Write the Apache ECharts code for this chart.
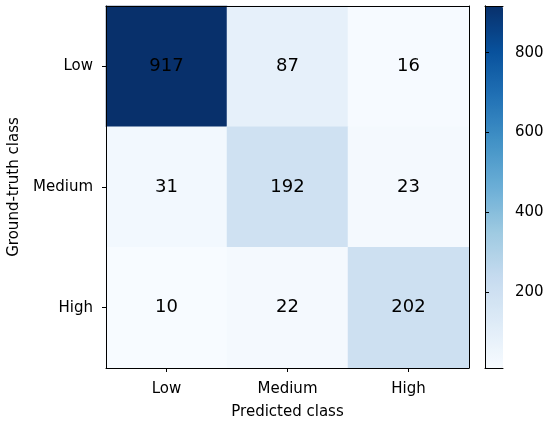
<!DOCTYPE html>
<html>
<head>
<meta charset="utf-8">
<script src="https://cdn.jsdelivr.net/npm/echarts@6/dist/echarts.min.js"></script>
<style>
  html, body { margin: 0; padding: 0; background: #fff; }
  #main { width: 550px; height: 421px; }
</style>
</head>
<body>
<div id="main"></div>
<script>
// confusion matrix, rows = ground truth, cols = predicted
const classes = ['Low', 'Medium', 'High'];
const rowLow = [917, 87, 16];
const rowMedium = [31, 192, 23];
const rowHigh = [10, 22, 202];
const colorbarTicks = [200, 400, 600, 800];

// matplotlib "Blues"
const blues = ['#f7fbff', '#deebf7', '#c6dbef', '#9ecae1', '#6baed6',
    '#4292c6', '#2171b5', '#08519c', '#08306b'];

const rows = [rowLow, rowMedium, rowHigh];
let cells = [];
rows.forEach((row, y) => {
    row.forEach((v, x) => cells.push([x, y, v]));
});
const allValues = rows.flat();
const vMin = Math.min(...allValues);
const vMax = Math.max(...allValues);

const font = 'DejaVu Sans';
const blackLine = { show: true, lineStyle: { color: '#000', width: 1 } };
const tick = { show: true, length: 4, inside: false, lineStyle: { color: '#000', width: 1 } };
const noTick = { show: false };
const noLabel = { show: false };

// spine-only axes (top / right of the matrix)
function spine(pos, isX) {
    return {
        type: 'category',
        gridIndex: 0,
        data: classes,
        position: pos,
        inverse: !isX,
        axisLine: blackLine,
        axisTick: noTick,
        axisLabel: noLabel,
        splitLine: { show: false },
        z: 10
    };
}

// spine-only value axes round the colorbar
function barSpine(pos, min, max) {
    return {
        type: 'value',
        gridIndex: 1,
        position: pos,
        min: min, max: max,
        axisLine: blackLine,
        axisTick: noTick,
        axisLabel: noLabel,
        splitLine: { show: false },
        z: 10
    };
}

const option = {
    animation: false,
    textStyle: { fontFamily: font },
    grid: [
        { left: 106, top: 6, width: 363, height: 362, outerBoundsMode: 'none', containLabel: false },
        { left: 485, top: 6, width: 18, height: 362, outerBoundsMode: 'none', containLabel: false }
    ],
    xAxis: [
        {
            type: 'category',
            gridIndex: 0,
            data: classes,
            position: 'bottom',
            name: 'Predicted class',
            nameLocation: 'middle',
            nameGap: 37,
            nameTextStyle: { color: '#000', fontSize: 15, fontFamily: font },
            axisLine: blackLine,
            axisTick: Object.assign({ alignWithLabel: true }, tick),
            axisLabel: { color: '#000', fontSize: 15, margin: 14, fontFamily: font },
            splitLine: { show: false },
            z: 10
        },
        spine('top', true),
        barSpine('bottom', 0, 1),
        barSpine('top', 0, 1)
    ],
    yAxis: [
        {
            type: 'category',
            gridIndex: 0,
            data: classes,
            inverse: true,
            position: 'left',
            name: 'Ground-truth class',
            nameLocation: 'middle',
            nameGap: 84,
            nameTextStyle: { color: '#000', fontSize: 15, fontFamily: font },
            axisLine: blackLine,
            axisTick: Object.assign({ alignWithLabel: true }, tick),
            axisLabel: { color: '#000', fontSize: 15, margin: 13, fontFamily: font },
            splitLine: { show: false },
            z: 10
        },
        spine('right', false),
        barSpine('left', vMin, vMax),
        {
            type: 'value',
            gridIndex: 1,
            position: 'right',
            offset: 0,
            min: vMin,
            max: vMax,
            axisLine: blackLine,
            splitLine: { show: false },
            axisTick: {
                show: true, inside: false, length: 4,
                customValues: colorbarTicks,
                lineStyle: { color: '#000', width: 1 }
            },
            axisLabel: {
                color: '#000', fontSize: 15, margin: 12, fontFamily: font,
                customValues: colorbarTicks
            },
            z: 10
        }
    ],
    visualMap: {
        type: 'continuous',
        min: vMin,
        max: vMax,
        seriesIndex: 0,
        calculable: false,
        orient: 'vertical',
        left: 485,
        top: 6,
        padding: 0,
        itemWidth: 18,
        itemHeight: 362,
        text: null,
        showLabel: false,
        inRange: { color: blues }
    },
    series: [{
        name: 'confusion',
        type: 'heatmap',
        xAxisIndex: 0,
        yAxisIndex: 0,
        data: cells,
        label: {
            show: true,
            color: '#000',
            fontSize: 18,
            fontFamily: font
        },
        itemStyle: { borderWidth: 0 }
    }]
};

let plot = echarts.init(document.querySelector('#main'));
plot.setOption(option);
</script>
</body>
</html>
